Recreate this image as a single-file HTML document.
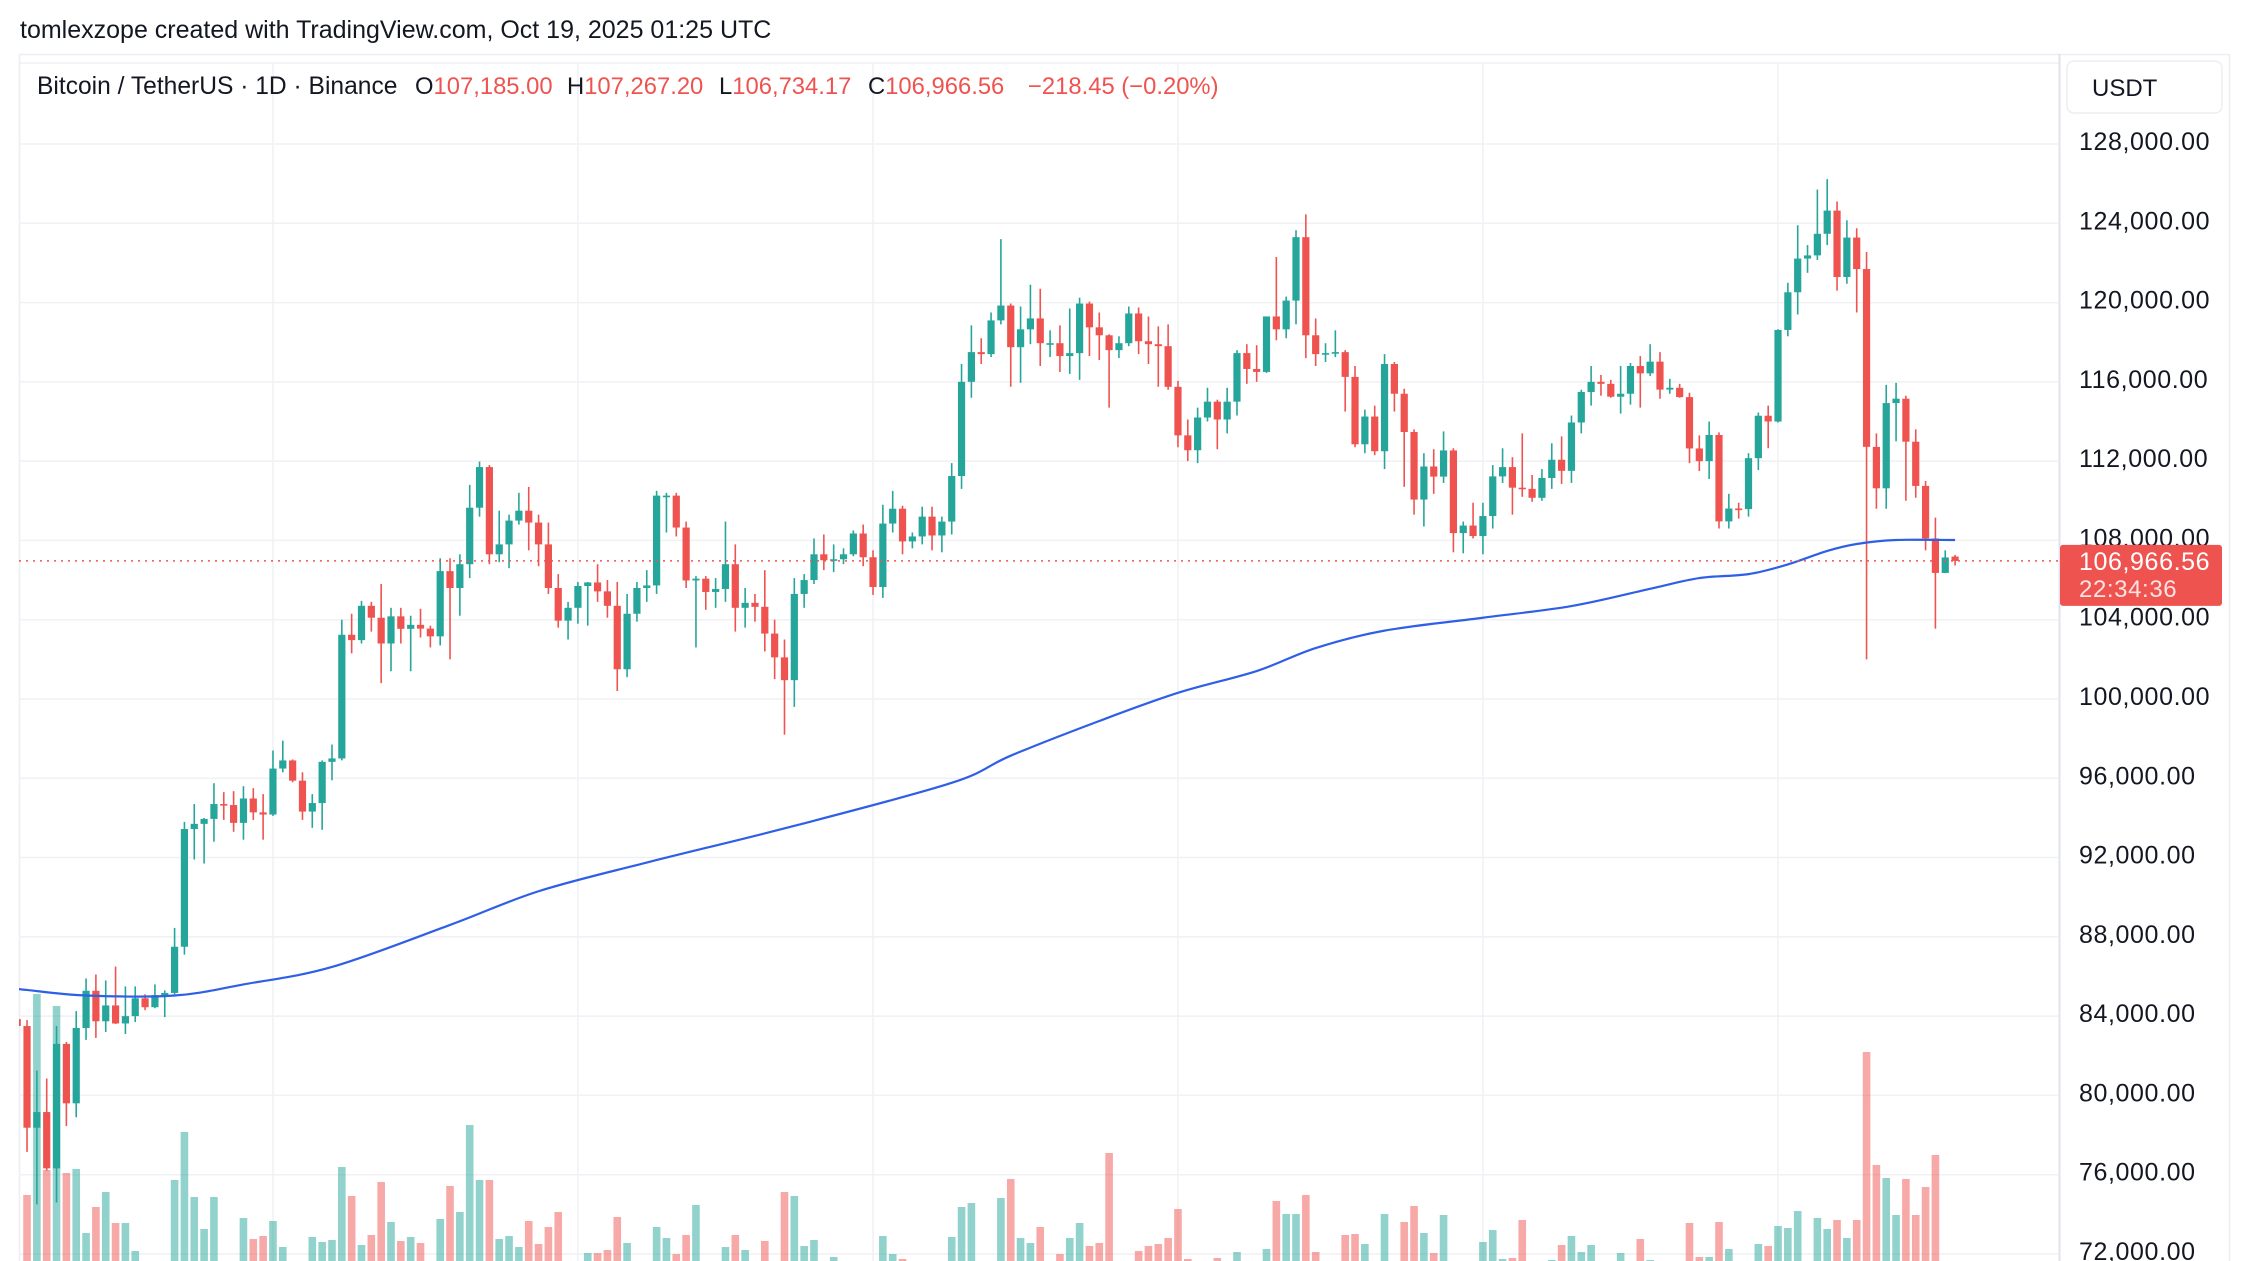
<!DOCTYPE html>
<html><head><meta charset="utf-8"><style>
html,body{margin:0;padding:0;background:#fff;}
svg{display:block;font-family:"Liberation Sans",Arial,sans-serif;}
</style></head><body>
<svg id="chart" width="2250" height="1261" viewBox="0 0 2250 1261" xmlns="http://www.w3.org/2000/svg">
<defs><clipPath id="plotclip"><rect x="19" y="55" width="2040" height="1206"/></clipPath></defs>
<rect x="0" y="0" width="2250" height="1261" fill="#ffffff"/>
<text x="20" y="38" font-size="25" fill="#131722">tomlexzope created with TradingView.com, Oct 19, 2025 01:25 UTC</text>
<line x1="19" y1="54.5" x2="2229" y2="54.5" stroke="#eceef2" stroke-width="1.5"/>
<line x1="19" y1="63" x2="2059" y2="63" stroke="#f0f1f4" stroke-width="1.5"/>
<line x1="19.5" y1="54" x2="19.5" y2="1261" stroke="#eceef2" stroke-width="1.5"/>
<line x1="2059.5" y1="54" x2="2059.5" y2="1261" stroke="#e0e3eb" stroke-width="2"/>
<line x1="2229.5" y1="54" x2="2229.5" y2="1261" stroke="#eceef2" stroke-width="1.5"/>
<g id="grid"></g>
<g id="plot" clip-path="url(#plotclip)"></g>
<g id="axis"></g>
<g font-size="23.8">
<text x="37" y="94" font-size="24.6" fill="#131722">Bitcoin / TetherUS · 1D · Binance</text>
<text x="415" y="94" fill="#131722">O<tspan fill="#ef5350">107,185.00</tspan></text>
<text x="567" y="94" fill="#131722">H<tspan fill="#ef5350">107,267.20</tspan></text>
<text x="719" y="94" fill="#131722">L<tspan fill="#ef5350">106,734.17</tspan></text>
<text x="868" y="94" fill="#131722">C<tspan fill="#ef5350">106,966.56</tspan></text>
<text x="1028" y="94" fill="#ef5350">−218.45 (−0.20%)</text>
</g>
<g>
<rect x="2067" y="61" width="155" height="52" rx="7" fill="#fff" stroke="#eceef2" stroke-width="1.5"/>
<text x="2092" y="96" font-size="24" fill="#131722">USDT</text>
</g>
<g id="pricetag"></g>
</svg>
<script>
const opens=[83.85,83.5,78.37,79.16,76.32,82.6,79.6,83.4,85.28,83.74,
84.54,83.63,84.0,84.9,84.45,85.06,85.17,87.5,93.44,93.7,
93.95,94.7,94.65,93.75,94.98,94.28,94.17,96.49,96.9,95.88,
94.32,94.75,96.83,97.0,103.24,102.97,104.7,104.1,102.8,104.17,
103.54,103.74,103.55,103.16,106.45,105.6,106.8,109.65,111.7,107.3,
107.8,109.0,109.5,108.9,107.8,105.6,103.95,104.6,105.7,105.88,
105.43,104.7,101.5,104.3,105.6,105.73,110.26,110.26,108.65,105.98,
106.07,105.4,105.55,106.8,104.6,104.85,104.65,103.3,102.1,100.95,
105.3,106.0,107.3,107.0,107.05,107.3,108.35,107.15,105.65,108.85,
109.6,107.95,108.2,109.2,108.25,108.95,111.25,116.0,117.5,117.4,
119.1,119.85,117.75,118.65,119.2,117.95,117.95,117.3,117.45,119.95,
118.75,118.35,117.6,117.95,119.45,118.05,117.9,117.8,115.75,113.3,
112.55,114.2,115.0,114.1,115.0,117.45,116.65,116.5,119.3,118.65,
120.1,123.3,118.35,117.4,117.45,117.5,116.25,112.85,114.25,112.5,
116.9,115.4,113.47,110.06,111.73,111.22,112.54,108.37,108.75,108.22,
109.23,111.23,111.7,110.66,110.6,110.15,111.15,112.07,111.51,113.95,
115.49,116.0,115.9,115.25,115.4,116.8,116.43,117.02,115.61,115.7,
115.23,112.64,112.0,113.32,108.96,109.61,109.58,112.15,114.29,114.0,
118.62,120.52,122.22,122.38,123.47,124.64,121.29,123.28,121.69,112.72,
110.63,114.93,115.15,112.98,110.75,108.1,106.36,107.185];
const highs=[84.2,83.8,81.25,80.85,83.5,82.7,84.25,85.9,86.1,85.8,
86.5,85.5,85.5,85.1,85.6,85.3,88.45,93.8,94.7,94.0,
95.75,95.3,95.35,95.6,95.5,95.2,97.4,97.9,96.95,96.3,
95.2,96.9,97.7,104.0,104.3,104.95,104.9,105.8,104.6,104.6,
104.2,104.55,103.7,107.1,107.1,107.3,110.8,111.98,111.8,109.5,
109.3,110.4,110.7,109.3,108.9,106.3,104.9,105.9,105.9,106.8,
106.0,105.9,105.3,105.9,106.5,110.5,110.4,110.4,108.95,106.2,
106.2,106.1,108.95,107.8,105.6,105.3,106.5,104.0,103.0,106.1,
106.3,108.1,108.3,107.8,107.6,108.5,108.8,107.5,109.8,110.5,
109.75,108.4,109.7,109.7,109.2,111.9,116.9,118.85,118.2,119.5,
123.2,119.95,119.8,120.9,120.7,118.6,118.85,119.7,120.25,120.05,
119.5,118.4,118.3,119.8,119.75,119.3,118.8,118.9,116.05,114.1,
114.7,115.7,115.1,115.7,117.6,117.9,117.85,119.3,122.3,120.3,
123.65,124.45,119.2,117.95,118.6,117.6,116.8,114.6,114.8,117.4,
117.0,115.65,113.6,112.4,112.6,113.5,112.65,108.95,109.9,109.9,
111.8,112.65,112.2,113.4,111.3,111.6,112.9,113.25,114.3,115.6,
116.8,116.35,116.1,116.8,116.95,117.3,117.9,117.5,116.15,115.9,
115.45,113.3,114.0,113.45,110.35,109.9,112.4,114.45,114.8,118.65,
121.0,123.9,122.9,125.7,126.23,125.1,124.15,123.75,122.55,113.4,
115.85,115.95,115.3,113.6,111.0,109.15,107.5,107.2672];
const lows=[82.4,77.15,74.5,76.2,74.6,78.45,78.9,82.8,82.9,83.2,
83.6,83.1,83.7,84.3,84.4,83.95,85.1,87.1,91.9,91.7,
92.8,93.9,93.3,92.9,93.9,92.9,94.1,96.3,95.8,93.9,
93.5,93.4,95.9,96.9,102.3,102.8,103.4,100.8,101.4,102.8,
101.4,103.1,102.6,102.7,102.0,104.2,106.1,109.2,106.8,106.9,
106.6,108.8,107.5,106.7,105.3,103.6,103.0,103.8,103.7,104.9,
104.1,100.4,101.1,103.9,104.9,105.3,108.4,108.2,105.6,102.6,
104.5,104.6,104.9,103.4,103.6,103.9,102.4,101.0,98.2,99.6,
104.6,105.8,106.5,106.4,106.8,107.2,106.7,105.25,105.1,108.4,
107.3,107.6,107.8,107.5,107.4,108.3,110.6,115.2,116.9,117.25,
118.9,115.75,115.95,117.9,116.8,117.25,116.5,116.4,116.1,117.3,
117.1,114.7,117.2,117.8,117.4,116.9,115.75,115.6,112.7,112.0,
111.9,114.0,112.6,113.4,114.3,115.9,116.0,116.45,118.1,118.2,
118.9,117.2,116.8,117.0,117.25,114.5,112.7,112.4,112.3,111.6,
114.5,110.7,109.3,108.7,110.35,110.9,107.4,107.35,108.1,107.3,
108.6,110.9,109.3,110.2,109.95,110.0,110.6,110.85,110.9,113.4,
114.8,115.3,115.2,114.4,114.85,114.7,116.3,115.15,115.4,115.2,
111.9,111.5,111.1,108.6,108.6,109.1,109.2,111.55,112.65,113.95,
118.3,119.4,121.5,122.15,122.9,120.6,120.95,119.5,102.0,109.6,
109.6,113.0,110.0,110.15,107.5,103.55,106.35,106.73417];
const closes=[83.5,78.37,79.16,76.32,82.6,79.6,83.4,85.28,83.74,84.54,
83.63,84.0,84.9,84.45,85.06,85.17,87.5,93.44,93.7,93.95,
94.7,94.65,93.75,94.98,94.28,94.17,96.49,96.9,95.88,94.32,
94.75,96.83,97.0,103.24,102.97,104.7,104.1,102.8,104.17,103.54,
103.74,103.55,103.16,106.45,105.6,106.8,109.65,111.7,107.3,107.8,
109.0,109.5,108.9,107.8,105.6,103.95,104.6,105.7,105.88,105.43,
104.7,101.5,104.3,105.6,105.73,110.26,110.26,108.65,105.98,106.07,
105.4,105.55,106.8,104.6,104.85,104.65,103.3,102.1,100.95,105.3,
106.0,107.3,107.0,107.05,107.3,108.35,107.15,105.65,108.85,109.6,
107.95,108.2,109.2,108.25,108.95,111.25,116.0,117.5,117.4,119.1,
119.85,117.75,118.65,119.2,117.95,117.95,117.3,117.45,119.95,118.75,
118.35,117.6,117.95,119.45,118.05,117.9,117.8,115.75,113.3,112.55,
114.2,115.0,114.1,115.0,117.45,116.65,116.5,119.3,118.65,120.1,
123.3,118.35,117.4,117.45,117.5,116.25,112.85,114.25,112.5,116.9,
115.4,113.47,110.06,111.73,111.22,112.54,108.37,108.75,108.22,109.23,
111.23,111.7,110.66,110.6,110.15,111.15,112.07,111.51,113.95,115.49,
116.0,115.9,115.25,115.4,116.8,116.43,117.02,115.61,115.7,115.23,
112.64,112.0,113.32,108.96,109.61,109.58,112.15,114.29,114.0,118.62,
120.52,122.22,122.38,123.47,124.64,121.29,123.28,121.69,112.72,110.63,
114.93,115.15,112.98,110.75,108.1,106.36,107.14,106.96656];
const volumes=[12,91,292,116,280,113,117,53,79,94,
63,63,35,12,12,12,106,154,89,57,
89,12,12,68,47,50,65,39,12,12,
49,44,46,119,90,41,51,104,64,45,
49,43,12,67,100,74,161,106,106,47,
50,39,65,42,59,74,12,12,33,33,
36,69,43,12,12,59,48,32,51,81,
12,12,39,51,36,12,45,12,94,90,
40,46,12,29,12,12,12,12,50,32,
27,12,12,12,12,49,79,83,12,12,
88,107,48,43,59,12,32,48,63,40,
43,133,12,12,35,40,42,48,77,27,
12,12,28,12,34,12,12,37,85,72,
72,91,34,12,12,51,52,42,12,72,
12,64,80,53,33,71,12,12,12,44,
56,27,28,66,12,12,26,41,50,34,
41,12,12,33,12,47,26,12,12,12,
63,29,29,64,37,12,12,42,40,60,
58,75,12,68,57,66,48,66,234,121,
108,71,107,71,99,131,12,12];
const maIdx=[0,1,7,16,23,32,44,53,64,79,95,101,110,118,126,132,139,149,158,166,171,176,180,184,187,191,197];
const maVals=[85.38,85.32,85.04,85.04,85.6,86.48,88.6,90.3,91.75,93.6,95.77,97.14,98.89,100.31,101.41,102.57,103.45,104.1,104.69,105.56,106.1,106.3,106.79,107.47,107.82,108.02,108.02];
const priceTicks=[128,124,120,116,112,108,104,100,96,92,88,84,80,76,72];
const monthStarts=[26,57,87,118,149,179];
const lastPrice=106.96656;

const NS='http://www.w3.org/2000/svg';
const UP='#26a69a', DN='#ef5350';
function xOf(j){return 17.2+9.837*j;}
function yOf(p){return 144+(128-p)*19.821;}
function volY(v){return 1286-v*1.0;}
function mk(tag,attrs,parent){const e=document.createElementNS(NS,tag);for(const k in attrs)e.setAttribute(k,attrs[k]);parent.appendChild(e);return e;}

const grid=document.getElementById('grid');
const plot=document.getElementById('plot');
const axis=document.getElementById('axis');
const tag=document.getElementById('pricetag');

priceTicks.forEach(function(t){
  const y=yOf(t);
  const gl=mk('line',{x1:19,x2:2059,y1:y,y2:y,stroke:'#f0f1f4','stroke-width':1.5},grid);
  
  
  const lb=mk('text',{x:2079,y:y+6,'font-size':25,fill:'#131722','letter-spacing':'0.6'},axis);
  lb.textContent=(t*1000).toLocaleString('en-US',{minimumFractionDigits:2,maximumFractionDigits:2});
  
  
});
monthStarts.forEach(function(j){
  const x=xOf(j);
  const vl=mk('line',{x1:x,x2:x,y1:63,y2:1261,stroke:'#f0f1f4','stroke-width':1.5},grid);
  
  
});

volumes.forEach(function(v,j){
  const up=closes[j]>=opens[j];
  const top=volY(v);
  const r=mk('rect',{x:xOf(j)-3.8,y:top,width:7.6,height:Math.max(0,1286-top),fill:up?'rgba(38,166,154,0.5)':'rgba(239,83,80,0.5)'},plot);
  
  
});

closes.forEach(function(c,j){
  const o=opens[j],h=highs[j],l=lows[j];
  const up=c>=o;const col=up?UP:DN;const x=xOf(j);
  const w=mk('line',{x1:x,x2:x,y1:yOf(h),y2:yOf(l),stroke:col,'stroke-width':1.6},plot);
  
  
  const yt=yOf(Math.max(o,c)),yb=yOf(Math.min(o,c));
  const b=mk('rect',{x:x-3.6,y:yt,width:7.2,height:Math.max(1.6,yb-yt),fill:col},plot);
  
  
});

(function(){
  const pts=maIdx.map(function(j,k){return [xOf(j),yOf(maVals[k])];});
  let d='M'+pts[0][0]+','+pts[0][1];
  for(let i=0;i<pts.length-1;i++){
    const p0=pts[Math.max(0,i-1)],p1=pts[i],p2=pts[i+1],p3=pts[Math.min(pts.length-1,i+2)];
    const c1x=p1[0]+(p2[0]-p0[0])/6,c1y=p1[1]+(p2[1]-p0[1])/6;
    const c2x=p2[0]-(p3[0]-p1[0])/6,c2y=p2[1]-(p3[1]-p1[1])/6;
    d+=' C'+c1x+','+c1y+' '+c2x+','+c2y+' '+p2[0]+','+p2[1];
  }
  const ma=mk('path',{d:d,fill:'none',stroke:'#2f5fe6','stroke-width':2.2},plot);
  
  
})();

(function(){
  const y=yOf(lastPrice);
  const pl=mk('line',{x1:19,x2:2059,y1:y,y2:y,stroke:DN,'stroke-width':1.5,'stroke-dasharray':'2,5'},grid.parentNode);
  
  
  const bx=mk('rect',{x:2060,y:y-16,width:162,height:61,rx:3,fill:DN},tag);
  
  
  const t1=mk('text',{x:2079,y:y+9,'font-size':25,fill:'#ffffff','letter-spacing':'0.6'},tag);
  t1.textContent=(lastPrice*1000).toLocaleString('en-US',{minimumFractionDigits:2,maximumFractionDigits:2});
  
  
  const t2=mk('text',{x:2079,y:y+36,'font-size':24,fill:'#fde3e2','letter-spacing':'0.6'},tag);
  t2.textContent='22:34:36';
  
  
})();
</script>
</body></html>
